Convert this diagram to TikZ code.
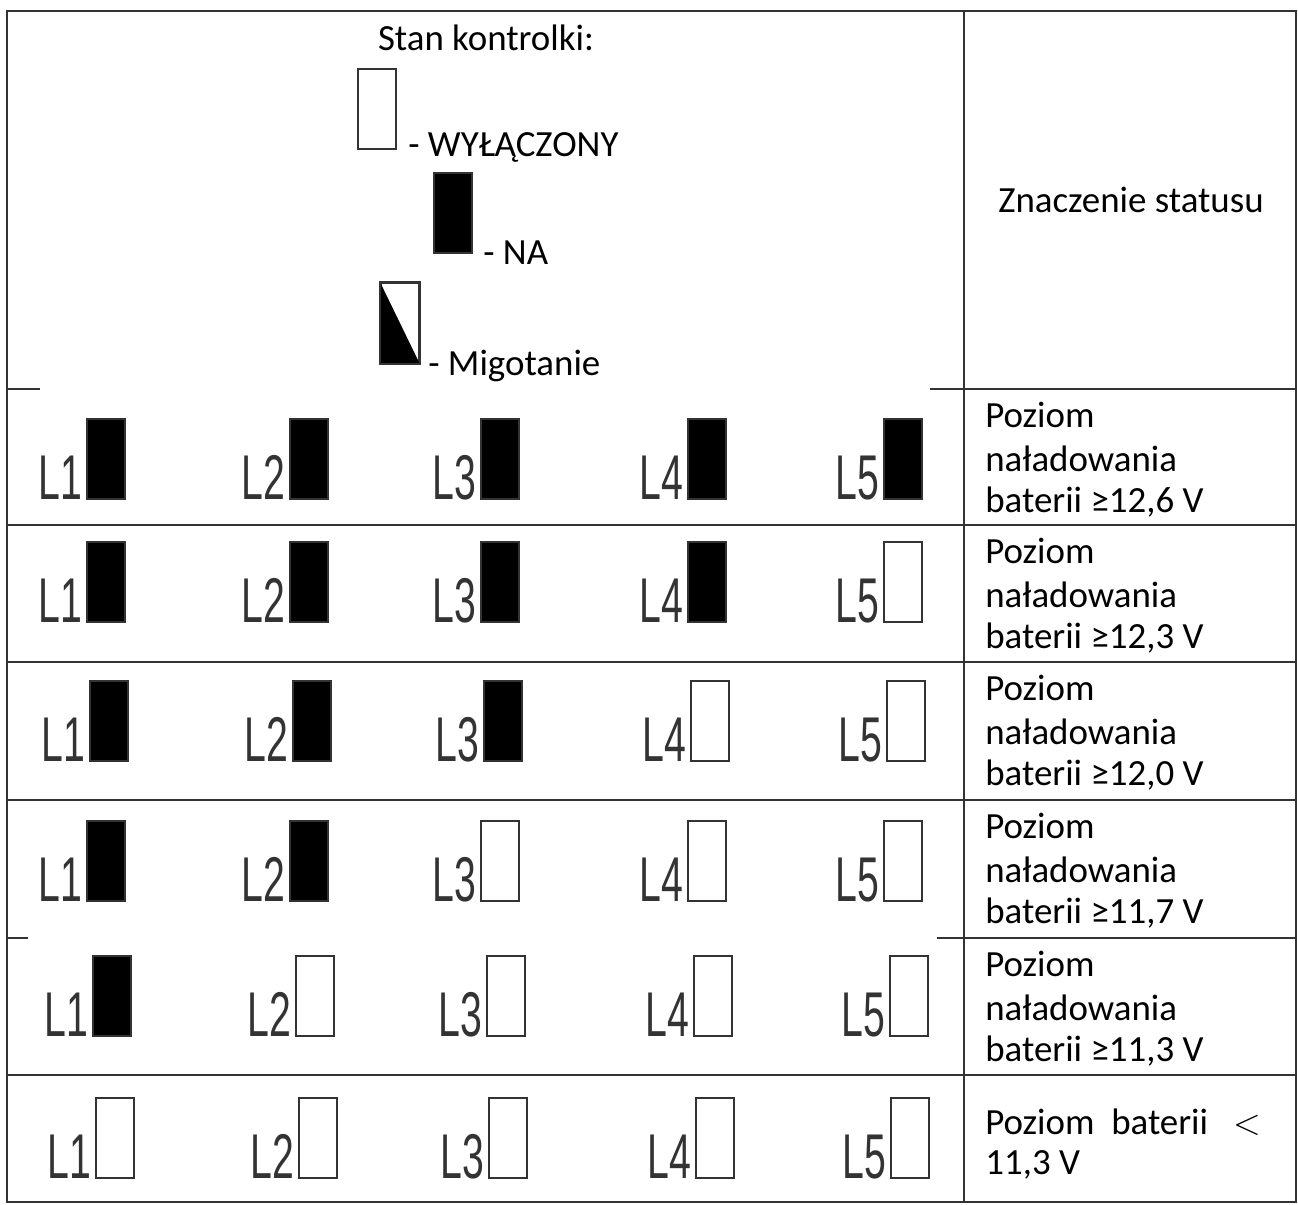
\documentclass[tikz,border=0pt]{standalone}
\usepackage{fontspec}
\setmainfont{Carlito}
\newfontfamily\ledfont{Liberation Sans}
\begin{document}
\begin{tikzpicture}[x=0.02cm,y=-0.02cm,
grid/.style={line width=1.1pt,black!80},
lamp/.style={draw=black!80,line width=1pt,minimum width=0.76cm,minimum height=1.6cm,inner sep=0,anchor=north west},
lampon/.style={lamp,fill=black},
ledname/.style={font=\ledfont\fontsize{36}{36}\selectfont,text=black!80,xscale=0.62,anchor=base east,inner sep=0},
txt/.style={font=\fontsize{21}{25}\selectfont,inner sep=0},
status/.style={txt,anchor=west,align=left},
]
\useasboundingbox (0,0) rectangle (1298,1204);
%frame
\draw[grid] (7,11) rectangle (1296,1202);
\draw[grid] (964,11)--(964,1202);
\draw[grid] (7,389)--(40,389);
\draw[grid] (930,389)--(1296,389);
\foreach \y in {525,662,800,1075}
  \draw[grid] (7,\y)--(1296,\y);
\draw[grid] (7,938)--(28,938);
\draw[grid] (937,938)--(1296,938);
%legend
\node[txt] (title) at (486,38) {Stan kontrolki:};
\node[lamp] (off) at (357,68) {};
\node[txt,anchor=west] (offtxt) at (408,147) {- WYŁĄCZONY};
\node[lampon] (on) at (433,172) {};
\node[txt,anchor=west] (ontxt) at (483,253) {- NA};
\node[lamp] (blink) at (380,282) {};
\fill (blink.north west)--(blink.south west)--(blink.south east)--cycle;
\draw[black!80,line width=1pt] (blink.north west) rectangle (blink.south east);
\node[txt,anchor=west] (blinktxt) at (428,366) {- Migotanie};
\node[txt] (head) at (1131,200) {Znaczenie statusu};
%lamp rows: row / row line / lamp top / shift / number of lamps on / level
\foreach \r/\l/\t/\s/\n/\v in {1/389/418/0/5/{12,6}, 2/525/541/0/4/{12,3}, 3/662/680/3/3/{12,0}, 4/800/820/0/2/{11,7}, 5/938/955/6/1/{11,3}}{
  \foreach \c/\xx in {1/86,2/289,3/480,4/687,5/883}{
    \ifnum\c>\n
      \node[lamp] (lamp\r\c) at (\xx+\s,\t) {};
    \else
      \node[lampon] (lamp\r\c) at (\xx+\s,\t) {};
    \fi
    \node[ledname] (name\r\c) at ([xshift=-2pt]lamp\r\c.south west) {L\c};
  }
  \node[status] (stat\r) at (985,\l+26) {Poziom};
  \node[status] (stat\r b) at (985,\l+70) {naładowania};
  \node[status] (stat\r c) at (985,\l+113) {baterii ≥\v\ V};
}
%last row
\foreach \c/\xx in {1/95,2/298,3/488,4/695,5/890}{
  \node[lamp] (lamp6\c) at (\xx,1097) {};
  \node[ledname] (name6\c) at ([xshift=-2pt]lamp6\c.south west) {L\c};
}
\node[status] (stat6) at (985,1122) {Poziom\ \ baterii\ \ \ $<$};
\node[status] (stat6b) at (985,1165) {11,3 V};
\end{tikzpicture}
\end{document}
